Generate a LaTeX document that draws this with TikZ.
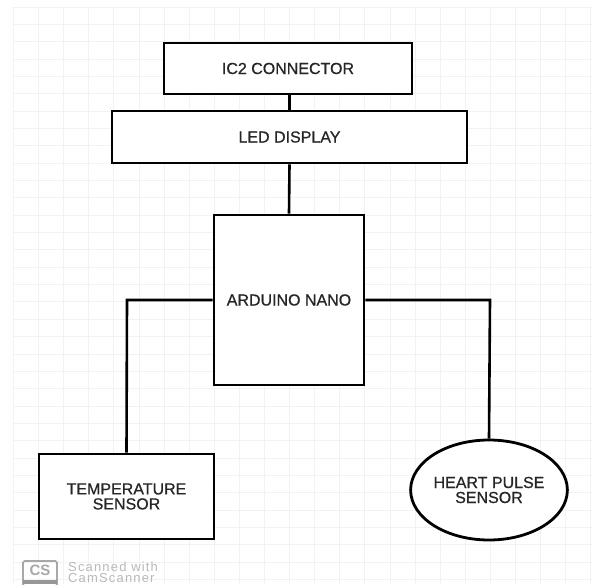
\documentclass[tikz,border=0pt]{standalone}
\usepackage{fontspec}
\setmainfont{Liberation Sans}
\newfontfamily\blockfont[FakeBold=0.7]{Liberation Sans}
\usetikzlibrary{shapes.geometric,calc}
\definecolor{gridc}{HTML}{F2F2F2}
\definecolor{txtc}{HTML}{262626}
\definecolor{csgray}{HTML}{A8A8A8}
\tikzset{
  blockbox/.style={draw=black, line width=2.8pt, fill=white, inner sep=0pt, font=\blockfont\fontsize{16}{15}\selectfont, text=txtc, align=center},
  conn/.style={draw=black, line width=2.6pt},
  wmtext/.style={text=csgray!80, font=\fontsize{13}{12}\selectfont, inner sep=0pt, text height=9.5pt, text depth=0pt, anchor=base west},
}
\begin{document}
\begin{tikzpicture}[x=1pt,y=-1pt]
\useasboundingbox (0,0) rectangle (592,584);
\fill[white] (0,0) rectangle (592,584);
% faint grid
\foreach \i in {0,...,23} {\draw[gridc, line width=1pt] ({13.5+25.1*\i},7) -- ({13.5+25.1*\i},584);}
\foreach \j in {0,...,33} {\draw[gridc, line width=1pt] (13.5,{7+17.35*\j}) -- (592,{7+17.35*\j});}
% blocks
\node[blockbox, minimum width=248pt, minimum height=51pt] (ic2) at (288,68.5) {IC2 CONNECTOR};
\node[blockbox, minimum width=355pt, minimum height=52pt] (led) at (289.5,137) {LED DISPLAY};
\node[blockbox, minimum width=150pt, minimum height=170pt] (ard) at (289,300) {ARDUINO NANO};
\node[blockbox, minimum width=175pt, minimum height=85pt] (temp) at (126.5,496.5) {TEMPERATURE\\SENSOR};
\node[blockbox, ellipse, minimum width=152pt, minimum height=100pt] (heart) at (489,490) {HEART PULSE\\SENSOR};
% connectors
\coordinate (ltop) at (127,300);
\coordinate (rtop) at (490,300);
\draw[conn] (ic2.south -| led.north) -- (led.north);
\draw[conn] (led.south) -- (ard.north);
\draw[conn] (ard.west) -- (ltop) -- (temp.north);
\draw[conn] (ard.east) -- (rtop) -- (heart.north);
% CamScanner watermark
\draw[csgray, line width=1.6pt, rounded corners=1.5pt] (23,561) rectangle (57,586);
\fill[csgray!90!black] (23,580) rectangle (57,584);
\node[text=csgray, font=\bfseries\fontsize{15}{15}\selectfont, inner sep=0pt] (cs) at (40,570.5) {CS};
\node[wmtext] (scan1) at (68,571) {\addfontfeature{LetterSpace=9}Scanned with};
\node[wmtext] (scan2) at (68,582.5) {\addfontfeature{LetterSpace=9}CamScanner};
\end{tikzpicture}
\end{document}
